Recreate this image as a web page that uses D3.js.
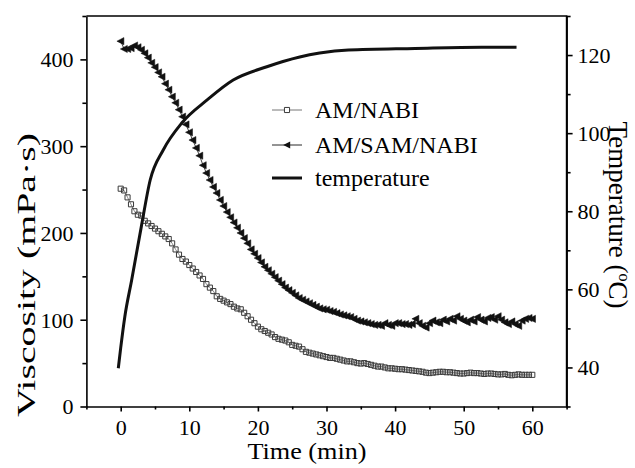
<!DOCTYPE html>
<meta charset="utf-8">
<style>
body { margin: 0; background: #fff; }
svg { display: block; }
.axis path, .axis line { stroke: #000; stroke-width: 1.6px; }
</style>
<svg width="635" height="468"></svg>
<script src="https://cdn.jsdelivr.net/npm/d3@7"></script>
<script>

var serif = "'Liberation Serif', 'Times New Roman', serif";

// sampling interval of the viscosity runs (min)
var timeStep = 0.5;

// AM/NABI viscosity, mPa·s, t = 0 .. 60 min
var amNabi = [
  251, 249, 241, 233, 225, 221, 220, 214, 211, 208,
  205, 202, 199, 196, 193, 188, 181, 175, 170, 167,
  163, 159, 155, 151, 147, 141, 137, 133, 127, 124,
  122, 120, 118, 115, 113, 112, 108, 104, 100, 96,
  92, 89, 87, 85, 83, 80, 78, 77, 76, 74,
  71, 70, 69, 66, 63, 62, 61, 60, 59, 58,
  57, 56, 56, 55, 54, 53, 52, 52, 51, 50,
  49.5, 50, 49, 48, 47, 46, 46, 45, 44, 44,
  43.5, 43, 43, 42.5, 42, 41.5, 41, 40.5, 40, 39,
  38.5, 39, 39.5, 40, 40, 39.5, 39.5, 39, 38.5, 38,
  38, 38.5, 39, 38.5, 38.5, 38, 37.5, 38, 38, 37.5,
  37, 37, 37.5, 36.5, 36, 36.5, 37, 36.5, 36.5, 36.5,
  36.5
];

// AM/SAM/NABI viscosity, mPa·s, t = 0 .. 60 min
var amSamNabi = [
  421, 412, 412, 413, 416, 414, 411, 407, 402, 396,
  391, 385, 380, 372, 365, 357, 350, 342, 334, 325,
  316, 307, 298, 289, 278, 269, 261, 253, 246, 238,
  231, 224, 218, 212, 206, 200, 194, 188, 181, 176,
  171, 166, 161, 157, 153, 149, 145, 141, 137, 134,
  131, 128, 125, 123, 121, 119, 117, 115, 113, 112,
  111.5, 110, 109, 107.5, 106, 105, 104, 103, 101, 99,
  98, 97, 96, 95, 94, 94, 93, 96, 94, 93,
  96, 96, 95, 95, 94, 95, 101, 96, 93, 91,
  96, 99, 97, 96, 100, 98, 101, 99, 104, 101,
  99, 97, 100, 98, 103, 100, 98, 102, 103, 100,
  104, 100, 97, 95, 98, 95, 93, 99, 101, 102,
  101
];

// temperature curve, min / °C
var tempTime  = [-0.35, 0, 0.6, 1.6, 3, 4.3, 6.2, 8.9, 12.6, 16.4, 21.3, 26.1, 29, 33.2, 42.9, 52.6, 57.7];
var tempValue = [39.8, 45, 53, 62.4, 76, 88, 95.7, 102.6, 108.5, 113.6, 117, 119.5, 120.5, 121.3, 121.7, 122, 122];

var timeTicks = [0, 10, 20, 30, 40, 50, 60];
var viscTicks = [0, 100, 200, 300, 400];
var tempTicks = [40, 60, 80, 100, 120];

var svg = d3.select("svg");

var x = d3.scaleLinear().domain([-5, 65]).range([86.4, 566.6]);
var y = d3.scaleLinear().domain([0, 450]).range([406.5, 16]);
var yT = d3.scaleLinear().domain([30, 130]).range([406.5, 16]);

var visc1 = amNabi.map(function(v, i) { return {t: i * timeStep, v: v}; });
var visc2 = amSamNabi.map(function(v, i) { return {t: i * timeStep, v: v}; });
var temp = tempTime.map(function(t, i) { return {t: t, v: tempValue[i]}; });

// frame
svg.append("path")
    .attr("d", "M" + x(-5) + "," + y(450) + "H" + x(65) + "V" + y(0))
    .attr("fill", "none")
    .attr("stroke", "#000")
    .attr("stroke-width", 1.6);

// minor ticks
svg.append("g").attr("class", "axis")
    .attr("transform", "translate(0," + y(0) + ")")
    .call(d3.axisBottom(x).tickValues(d3.range(-5, 66, 10)).tickSize(3).tickFormat(""))
    .select(".domain").remove();
svg.append("g").attr("class", "axis")
    .attr("transform", "translate(" + x(-5) + ",0)")
    .call(d3.axisLeft(y).tickValues([50, 150, 250, 350, 450]).tickSize(4).tickFormat(""))
    .select(".domain").remove();
svg.append("g").attr("class", "axis")
    .attr("transform", "translate(" + x(65) + ",0)")
    .call(d3.axisRight(yT).tickValues([30, 50, 70, 90, 110, 130]).tickSize(4).tickFormat(""))
    .select(".domain").remove();

// major axes
var gx = svg.append("g").attr("class", "axis")
    .attr("transform", "translate(0," + y(0) + ")")
    .call(d3.axisBottom(x).tickValues(timeTicks).tickSize(5).tickSizeOuter(0).tickPadding(4));
var gy = svg.append("g").attr("class", "axis")
    .attr("transform", "translate(" + x(-5) + ",0)")
    .call(d3.axisLeft(y).tickValues(viscTicks).tickSize(6).tickSizeOuter(0).tickPadding(7));
var gyT = svg.append("g").attr("class", "axis")
    .attr("transform", "translate(" + x(65) + ",0)")
    .call(d3.axisRight(yT).tickValues(tempTicks).tickSize(6).tickSizeOuter(0).tickPadding(5));

svg.selectAll(".axis").attr("font-family", serif).attr("font-size", 22);
svg.selectAll(".axis text").style("font-family", serif).style("font-size", "22px").attr("fill", "#000");
gx.selectAll("text").attr("dy", "0.9em");
gy.selectAll("text").attr("dy", "0.34em");
gyT.selectAll("text").attr("dy", "0.34em");

// axis titles
svg.append("text")
    .attr("x", 307).attr("y", 459)
    .attr("text-anchor", "middle")
    .style("font-family", serif)
    .style("font-size", "24px")
    .attr("textLength", 119).attr("lengthAdjust", "spacingAndGlyphs")
    .text("Time (min)");

svg.append("text")
    .attr("transform", "translate(35,275) rotate(-90)")
    .attr("text-anchor", "middle")
    .style("font-family", serif)
    .style("font-size", "26px")
    .attr("textLength", 284).attr("lengthAdjust", "spacingAndGlyphs")
    .text("Viscosity (mPa\u00b7s)");

var tt = svg.append("text")
    .attr("transform", "translate(609,215) rotate(90)")
    .attr("text-anchor", "middle")
    .style("font-family", serif)
    .style("font-size", "27px");
tt.append("tspan").text("Temperature (");
tt.append("tspan").attr("dy", -10).style("font-size", "16px").text("o");
tt.append("tspan").attr("dy", 10).text("C)");

// series
var line = d3.line().x(function(d) { return x(d.t); }).y(function(d) { return y(d.v); });

svg.append("path").datum(visc1)
    .attr("d", line).attr("fill", "none").attr("stroke", "#666").attr("stroke-width", 0.8);
svg.append("path").datum(visc2)
    .attr("d", line).attr("fill", "none").attr("stroke", "#111").attr("stroke-width", 0.8);

var square = d3.symbol().type(d3.symbolSquare).size(26);
var triangle = "M-3.8,0L3.2,-3.6L3.2,3.6Z";

svg.append("g").selectAll("path").data(visc1).enter().append("path")
    .attr("d", square)
    .attr("transform", function(d) { return "translate(" + x(d.t) + "," + y(d.v) + ")"; })
    .attr("fill", "none").attr("stroke", "#3a3a3a").attr("stroke-width", 1);

svg.append("g").selectAll("path").data(visc2).enter().append("path")
    .attr("d", triangle)
    .attr("transform", function(d) { return "translate(" + x(d.t) + "," + y(d.v) + ")"; })
    .attr("fill", "#111").attr("stroke", "#111").attr("stroke-width", 0.5);

svg.append("path").datum(temp)
    .attr("d", d3.line().curve(d3.curveMonotoneX)
      .x(function(d) { return x(d.t); })
      .y(function(d) { return yT(d.v); }))
    .attr("fill", "none").attr("stroke", "#111").attr("stroke-width", 3);

// legend
var legend = [
  {label: "AM/NABI", y: 110, base: 118},
  {label: "AM/SAM/NABI", y: 145, base: 153},
  {label: "temperature", y: 178, base: 186}
];

var lg = svg.append("g");
lg.selectAll("line").data(legend).enter().append("line")
    .attr("x1", 272).attr("x2", 302)
    .attr("y1", function(d) { return d.y; }).attr("y2", function(d) { return d.y; })
    .attr("stroke", function(d, i) { return i == 0 ? "#666" : "#111"; })
    .attr("stroke-width", function(d, i) { return i == 2 ? 3 : 0.9; });
lg.append("path").attr("d", square)
    .attr("transform", "translate(287," + legend[0].y + ")")
    .attr("fill", "#fff").attr("stroke", "#3a3a3a");
lg.append("path").attr("d", triangle)
    .attr("transform", "translate(287," + legend[1].y + ")")
    .attr("fill", "#111");
lg.selectAll("text").data(legend).enter().append("text")
    .attr("x", 315).attr("y", function(d) { return d.base; })
    .style("font-family", serif)
    .style("font-size", "24px")
    .text(function(d) { return d.label; });

</script>
